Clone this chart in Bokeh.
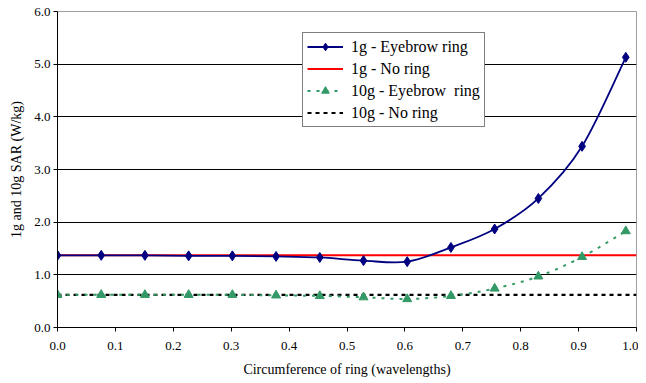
from bokeh.plotting import figure
from bokeh.models import Legend, LegendItem, Range1d, FixedTicker, NumeralTickFormatter, ColumnDataSource
from bokeh.embed import file_html
from bokeh.resources import INLINE

# ---- data ----
x_ring = [0.0, 0.0755, 0.151, 0.2265, 0.302, 0.3775, 0.453, 0.5285, 0.604, 0.6795, 0.755, 0.8305, 0.906, 0.9815]
sar1g_eyebrow = [1.37, 1.37, 1.37, 1.36, 1.36, 1.35, 1.33, 1.27, 1.25, 1.52, 1.87, 2.45, 3.44, 5.13]
sar10g_eyebrow = [0.62, 0.62, 0.62, 0.62, 0.62, 0.61, 0.60, 0.575, 0.54, 0.60, 0.74, 0.97, 1.34, 1.83]
x_noring = [0.0, 1.0]
sar1g_noring = [1.37, 1.37]
sar10g_noring = [0.62, 0.62]
x_ticks = [0.0, 0.1, 0.2, 0.3, 0.4, 0.5, 0.6, 0.7, 0.8, 0.9, 1.0]
y_ticks = [0.0, 1.0, 2.0, 3.0, 4.0, 5.0, 6.0]
series_labels = ["1g - Eyebrow ring", "1g - No ring", "10g - Eyebrow  ring", "10g - No ring"]

FONT = "Liberation Serif"


def smooth_segments(xs, ys):
    """Bezier control points (Excel-like smoothing) through the data points."""
    n = len(xs)
    d = dict(x0=[], y0=[], x1=[], y1=[], cx0=[], cy0=[], cx1=[], cy1=[])
    for i in range(n - 1):
        xp, yp = (xs[i - 1], ys[i - 1]) if i > 0 else (xs[i], ys[i])
        xn, yn = (xs[i + 2], ys[i + 2]) if i + 2 < n else (xs[i + 1], ys[i + 1])
        d["x0"].append(xs[i]); d["y0"].append(ys[i])
        d["x1"].append(xs[i + 1]); d["y1"].append(ys[i + 1])
        d["cx0"].append(xs[i] + (xs[i + 1] - xp) / 6.0)
        d["cy0"].append(ys[i] + (ys[i + 1] - yp) / 6.0)
        d["cx1"].append(xs[i + 1] - (xn - xs[i]) / 6.0)
        d["cy1"].append(ys[i + 1] - (yn - ys[i]) / 6.0)
    return ColumnDataSource(d)


p = figure(width=638, height=380, output_backend="svg", toolbar_location=None,
           x_range=Range1d(0, 1), y_range=Range1d(0, 6),
           min_border_left=57, min_border_right=2, min_border_top=11, min_border_bottom=53)
p.background_fill_color = "white"
p.border_fill_color = "white"
p.outline_line_color = "#a0a0a0"
p.outline_line_width = 1

# grid
p.xgrid.visible = False
p.ygrid.ticker = FixedTicker(ticks=y_ticks)
p.ygrid.grid_line_color = "#000000"
p.ygrid.grid_line_width = 1

# axes
p.xaxis.ticker = FixedTicker(ticks=x_ticks)
p.yaxis.ticker = FixedTicker(ticks=y_ticks)
p.xaxis.formatter = NumeralTickFormatter(format="0.0")
p.yaxis.formatter = NumeralTickFormatter(format="0.0")
for ax in (p.xaxis, p.yaxis):
    ax.major_label_text_font = FONT
    ax.major_label_text_font_size = "13px"
    ax.major_label_text_color = "black"
    ax.axis_label_text_font = FONT
    ax.axis_label_text_font_size = "14px"
    ax.axis_label_text_font_style = "normal"
    ax.axis_label_text_color = "black"
    ax.axis_line_color = "black"
    ax.major_tick_line_color = "black"
    ax.major_tick_in = 0
    ax.major_tick_out = 4
    ax.minor_tick_line_color = None
p.xaxis.axis_label = "Circumference of ring (wavelengths)"
p.yaxis.axis_label = "1g and 10g SAR (W/kg)"
p.xaxis.major_label_standoff = 10
p.yaxis.major_label_standoff = 3
p.xaxis.axis_label_standoff = 9
p.yaxis.axis_label_standoff = 7

# series
r_red = p.line(x_noring, sar1g_noring, line_color="#FF0000", line_width=2)
r_blk = p.line(x_noring, sar10g_noring, line_color="black", line_width=2.2, line_dash="4 4")

src1 = smooth_segments(x_ring, sar1g_eyebrow)
r_b1 = p.bezier(x0="x0", y0="y0", x1="x1", y1="y1", cx0="cx0", cy0="cy0", cx1="cx1", cy1="cy1",
                source=src1, line_color="#000080", line_width=1.8)
r_s1 = p.scatter(x_ring, sar1g_eyebrow, marker="diamond", size=10, fill_color="#000080",
                 line_color="#000080")

src2 = smooth_segments(x_ring, sar10g_eyebrow)
r_b2 = p.bezier(x0="x0", y0="y0", x1="x1", y1="y1", cx0="cx0", cy0="cy0", cx1="cx1", cy1="cy1",
                source=src2, line_color="#339966", line_width=2, line_dash="3 6")
r_s2 = p.scatter(x_ring, sar10g_eyebrow, marker="triangle", size=9, fill_color="#339966",
                 line_color="#339966")

legend = Legend(items=[
    LegendItem(label=series_labels[0], renderers=[r_b1, r_s1]),
    LegendItem(label=series_labels[1], renderers=[r_red]),
    LegendItem(label=series_labels[2], renderers=[r_b2, r_s2]),
    LegendItem(label=series_labels[3], renderers=[r_blk]),
], location=(245, 200))
legend.label_text_font = FONT
legend.label_text_font_size = "16px"
legend.label_text_color = "black"
legend.border_line_color = "black"
legend.border_line_width = 1
legend.background_fill_color = "white"
legend.background_fill_alpha = 1
legend.padding = 4
legend.spacing = 3
legend.glyph_width = 36
legend.glyph_height = 19
legend.label_height = 19
legend.label_standoff = 8
legend.margin = 0
p.add_layout(legend, "center")

open("out.html", "w").write(file_html(p, INLINE))
